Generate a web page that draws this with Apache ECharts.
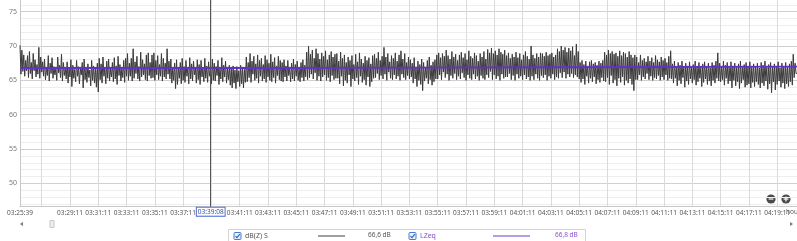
<!DOCTYPE html>
<html><head><meta charset="utf-8">
<script src="https://cdn.jsdelivr.net/npm/echarts@6/dist/echarts.min.js"></script>
<style>html,body{margin:0;padding:0;background:#fff;overflow:hidden}#c{width:797px;height:241px}</style>
</head><body><div id="c"></div>
<script>
const startTime = '03:25:39';
const endTime = '04:20:35';
const stepSeconds = 4;
const dbzS = [
70.1,65.9,69.4,66.3,68.7,65.6,67.9,66.4,
68.6,65.4,69.2,66.0,67.6,65.2,68.9,66.4,68.0,65.5,67.3,65.9,69.8,65.3,68.4,66.2,67.7,65.6,
68.1,65.1,66.9,65.7,68.6,64.9,67.5,66.0,68.3,65.3,67.0,65.8,66.7,65.0,68.4,66.1,67.2,65.4,68.8,64.9,67.6,65.7,66.8,65.2,
67.7,64.6,66.9,65.5,68.0,64.1,67.2,65.3,66.6,64.8,67.9,65.6,67.0,64.5,66.7,65.8,67.6,63.9,68.1,65.1,66.8,64.7,67.4,65.4,66.5,64.2,67.9,65.0,67.1,64.6,66.9,64.0,67.5,63.3,
68.2,65.1,67.4,64.6,68.4,65.6,66.9,64.5,67.8,65.3,68.1,64.9,66.7,65.5,67.6,64.8,68.3,65.2,67.1,64.4,68.5,65.7,67.3,64.9,66.8,65.4,67.9,64.7,68.2,65.6,
68.9,65.0,67.5,65.6,68.2,64.9,69.6,65.3,67.7,66.0,68.5,65.2,67.0,64.9,69.1,65.5,68.0,65.8,67.4,65.1,68.7,64.9,69.0,65.7,67.6,65.3,
68.7,65.4,69.0,65.0,67.9,65.8,68.6,65.1,67.3,65.6,68.9,64.9,68.2,65.5,67.5,65.2,69.6,65.9,
67.8,65.2,68.1,64.6,66.9,65.0,67.5,63.8,68.0,64.4,66.8,65.3,67.6,64.5,68.2,65.0,
67.0,64.7,67.9,65.6,66.8,64.5,68.3,65.2,67.4,64.9,67.8,65.8,66.9,64.6,68.0,65.1,67.3,64.4,67.9,65.5,66.8,64.8,68.2,65.3,67.1,64.7,67.7,65.6,66.6,64.5,68.1,65.0,67.5,64.9,67.0,65.7,67.9,64.4,66.9,65.2,68.3,64.8,67.2,65.5,67.8,64.6,66.7,65.1,
67.2,64.3,66.9,63.9,67.1,64.6,66.5,63.8,67.0,64.8,66.4,64.1,67.2,64.5,66.8,63.9,66.6,64.7,
68.4,64.8,67.6,65.4,68.9,64.7,67.8,65.9,68.5,65.0,67.4,65.3,68.7,64.6,67.9,65.6,68.2,64.9,67.3,65.2,68.6,64.7,68.0,65.5,67.5,65.0,68.8,64.8,67.7,65.4,68.3,64.6,67.1,65.7,68.5,65.1,67.9,64.9,
67.6,64.8,68.0,65.5,67.1,64.9,67.9,65.7,66.8,64.8,67.5,65.2,68.1,64.9,67.3,65.6,67.8,65.0,66.9,64.8,67.6,65.4,68.0,64.9,67.2,65.5,
69.1,65.1,70.0,65.4,68.8,65.9,69.4,65.2,68.2,66.1,69.6,65.0,68.9,65.6,68.1,64.9,69.0,65.5,68.5,65.8,69.3,65.0,68.0,65.4,68.7,64.8,69.2,65.7,68.4,65.1,68.8,65.3,
68.9,65.3,67.8,64.5,69.1,65.6,68.2,64.2,68.7,65.0,67.6,64.6,68.4,65.8,67.9,64.1,68.6,65.2,67.3,64.9,68.8,65.4,67.7,64.4,69.0,65.6,68.1,64.7,67.5,65.1,68.5,64.3,67.9,65.5,68.3,64.1,67.4,64.8,68.6,65.3,
68.8,65.4,68.2,66.0,69.1,65.1,67.9,65.7,68.5,65.2,69.8,65.9,68.4,65.0,68.9,66.2,67.7,65.3,68.6,65.1,68.2,65.8,69.0,65.2,67.8,65.6,68.7,65.0,69.3,65.9,68.1,65.4,68.9,65.1,67.6,65.7,68.4,65.2,68.0,65.5,
67.5,64.6,68.3,65.2,66.9,64.1,67.8,65.0,67.3,64.4,68.1,63.5,67.6,64.9,66.8,65.3,67.9,64.5,68.4,65.1,67.2,64.3,67.7,64.8,68.0,65.2,
68.7,65.2,69.0,65.8,68.3,65.1,68.9,66.2,68.5,65.4,69.4,65.9,68.6,65.0,68.1,65.7,69.2,65.3,68.4,66.0,68.8,65.1,67.9,65.6,68.7,65.2,69.1,66.1,68.3,65.4,68.9,65.0,68.0,65.8,69.3,65.3,68.5,65.1,68.2,65.9,69.0,65.2,68.6,65.6,67.8,65.0,68.9,65.7,68.4,65.3,69.2,65.1,68.1,65.8,
69.5,65.4,69.0,66.3,69.7,65.1,68.9,65.8,69.3,65.2,68.7,65.6,69.6,65.0,69.1,65.9,68.8,65.3,69.4,65.5,
68.6,65.5,69.0,66.0,68.2,65.1,68.8,65.7,68.4,65.0,69.1,65.9,68.3,65.3,68.9,65.6,68.0,65.1,68.7,65.8,69.2,65.2,68.5,65.5,68.1,65.0,70.0,65.6,68.7,65.1,68.2,65.9,68.9,65.3,68.4,65.0,69.0,65.7,
68.9,65.4,68.5,65.8,69.1,65.0,68.6,65.6,68.8,65.3,69.0,65.9,68.4,65.1,68.7,65.5,
69.6,65.3,69.2,66.1,70.0,65.4,69.4,66.2,69.8,65.3,69.1,65.9,69.7,65.5,69.3,66.0,69.9,65.4,68.6,65.8,70.3,65.5,69.2,65.2,
67.6,64.7,67.9,65.2,67.3,64.4,67.8,65.6,67.1,64.6,67.7,65.3,67.9,64.8,67.4,65.5,67.6,64.5,67.2,65.1,67.8,64.7,67.5,65.4,67.9,64.9,
69.1,64.8,68.7,65.4,69.4,64.4,68.9,65.7,69.2,64.6,68.8,65.1,69.0,64.2,68.5,65.3,69.3,64.7,68.6,65.5,69.1,64.3,68.9,65.0,68.4,64.6,69.2,65.2,68.7,64.4,68.3,63.5,68.7,65.1,
68.4,65.1,67.6,65.8,68.7,65.0,67.9,65.5,68.2,65.2,67.7,66.0,68.5,65.1,67.8,65.6,68.3,65.0,67.6,65.4,68.6,65.2,68.0,65.7,67.7,65.0,68.4,65.5,67.9,65.1,68.2,65.8,67.6,65.0,68.5,65.3,69.3,65.2,
67.4,64.6,67.8,65.3,66.9,64.2,67.6,65.0,67.2,64.5,67.8,65.4,66.9,64.0,67.5,64.9,67.1,64.4,67.7,65.2,66.9,64.6,67.3,65.1,67.8,64.3,67.0,64.8,67.6,65.3,66.9,64.1,67.4,64.7,67.7,65.2,67.0,64.4,67.5,64.9,66.8,64.2,67.6,65.0,67.2,64.6,67.8,65.3,
69.0,64.9,
67.5,64.8,66.9,65.1,67.8,64.3,67.2,65.3,67.6,64.5,66.9,64.9,67.7,63.9,67.1,65.0,67.5,64.2,66.9,64.8,67.4,63.8,67.8,64.6,66.9,65.1,67.3,64.0,67.6,64.3,67.0,64.5,67.7,63.9,66.9,64.7,67.4,64.1,67.0,64.8,67.5,64.4,66.8,63.9,67.6,64.6,67.2,64.2,67.8,64.9,66.9,63.7,67.3,64.5,67.6,63.2,66.9,64.8,67.4,63.6,67.1,64.4,67.7,64.9,66.8,64.0,67.5,64.6,67.0,63.8,67.6,64.5,66.9,64.1,67.4,64.8,67.8,64.3,
68.8,65.4,67.5,66.0,66.0
];
const lzeqTimes = ['03:25:39','03:45:00','03:55:00','04:03:00','04:11:00','04:20:35'];
const lzeqValues = [66.8,66.8,66.85,66.9,66.95,67.0];
const gridTimes = ['03:27:11','03:29:11','03:31:11','03:33:11','03:35:11','03:37:11','03:39:11','03:41:11','03:43:11','03:45:11','03:47:11','03:49:11','03:51:11','03:53:11','03:55:11','03:57:11','03:59:11','04:01:11','04:03:11','04:05:11','04:07:11','04:09:11','04:11:11','04:13:11','04:15:11','04:17:11','04:19:11'];
const labelTimes = ['03:25:39','03:29:11','03:31:11','03:33:11','03:35:11','03:37:11','03:41:11','03:43:11','03:45:11','03:47:11','03:49:11','03:51:11','03:53:11','03:55:11','03:57:11','03:59:11','04:01:11','04:03:11','04:05:11','04:07:11','04:09:11','04:11:11','04:13:11','04:15:11','04:17:11','04:19:11'];
const yGridValues = [47,48,49,50,51,52,53,54,55,56,57,58,59,60,61,62,63,64,65,66,67,68,69,70,71,72,73,74,75,76];
const yLabelValues = [50,55,60,65,70,75];
const cursorTime = '03:39:08';
const legendNames = ['dB(Z) S','LZeq'];
const legendValues = ['66,6 dB','66,8 dB'];
const xUnit = 'hour';

const FONT = 'Noto Sans';
function toSec(s){const p=s.split(':').map(Number);return p[0]*3600+p[1]*60+p[2];}
const t0 = toSec(startTime);
const rel = s => toSec(s) - t0;
const pad = n => (n<10?'0':'')+n;
function fmt(v){const s=t0+Math.round(v);return pad(Math.floor(s/3600))+':'+pad(Math.floor(s%3600/60))+':'+pad(s%60);}
const seriesData = dbzS.map((v,i)=>[i*stepSeconds,v]);
const lzeqData = lzeqTimes.map((t,i)=>[rel(t),lzeqValues[i]]);

const PURPLE = '#6630c8';
const chart = echarts.init(document.getElementById('c'), null, {renderer:'canvas'});

function checkbox(x,y){
  return [
    {type:'rect',shape:{x:x,y:y,width:7,height:7,r:1},style:{fill:'#e8f0fb',stroke:'#4a7bd0',lineWidth:1}},
    {type:'polyline',shape:{points:[[x+1.5,y+3.6],[x+3,y+5.2],[x+5.8,y+1.6]]},style:{stroke:'#2f63c0',lineWidth:1.1,fill:null}}
  ];
}
const graphics = [
  {type:'text',left:786,top:209,style:{text:xUnit,fontSize:6.5,fill:'#555',fontFamily:FONT}},
  {type:'circle',shape:{cx:771,cy:199,r:4.6},style:{fill:'#4a4a4a'}},
  {type:'line',shape:{x1:768.6,y1:199,x2:773.4,y2:199},style:{stroke:'#fff',lineWidth:1.2}},
  {type:'circle',shape:{cx:786,cy:199,r:4.6},style:{fill:'#4a4a4a'}},
  {type:'line',shape:{x1:783.6,y1:199,x2:788.4,y2:199},style:{stroke:'#fff',lineWidth:1.2}},
  {type:'line',shape:{x1:786,y1:196.6,x2:786,y2:201.4},style:{stroke:'#fff',lineWidth:1.2}},
  {type:'polygon',shape:{points:[[20,224],[23,222],[23,226]]},style:{fill:'#777'}},
  {type:'rect',shape:{x:50,y:220.5,width:4,height:7},style:{fill:'#eee',stroke:'#bbb',lineWidth:0.8}},
  {type:'polygon',shape:{points:[[793,224],[790,222],[790,226]]},style:{fill:'#777'}},
  {type:'rect',shape:{x:228.5,y:229.5,width:357,height:16},style:{fill:'#fff',stroke:'#d4d4d4',lineWidth:1}},
  ...checkbox(234,232.5),
  {type:'text',left:245,top:232,style:{text:legendNames[0],fontSize:7,fill:'#555',fontFamily:FONT}},
  {type:'line',shape:{x1:318,y1:236,x2:345,y2:236},style:{stroke:'#888',lineWidth:1.6}},
  {type:'text',left:368,top:232,style:{text:legendValues[0],fontSize:6.5,fill:'#555',fontFamily:FONT}},
  ...checkbox(409,232.5),
  {type:'text',left:420,top:232,style:{text:legendNames[1],fontSize:7,fill:'#8c4fd0',fontFamily:FONT}},
  {type:'line',shape:{x1:493,y1:236,x2:530,y2:236},style:{stroke:'#a47ad8',lineWidth:1.6}},
  {type:'text',left:555,top:232,style:{text:legendValues[1],fontSize:6.5,fill:'#8c4fd0',fontFamily:FONT}}
];

chart.setOption({
  animation:false,
  backgroundColor:'#fff',
  grid:{left:20,right:0,top:0,bottom:34.3},
  xAxis:{type:'value',min:0,max:rel(endTime),
    axisLine:{show:true,onZero:false,lineStyle:{color:'#c8c8c8'}},
    axisTick:{show:false,customValues:gridTimes.map(rel)},
    axisLabel:{customValues:labelTimes.map(rel),formatter:fmt,fontSize:6.5,color:'#555',margin:3,fontFamily:FONT},
    splitLine:{show:true,lineStyle:{color:'#dadada',width:1}}
  },
  yAxis:{type:'value',min:46.6,max:76.7,
    axisLine:{show:true,lineStyle:{color:'#c8c8c8'}},
    axisTick:{show:false,customValues:yGridValues},
    axisLabel:{customValues:yLabelValues,fontSize:7,color:'#777',margin:3,fontFamily:FONT},
    splitLine:{show:true,lineStyle:{color:yGridValues.map(v=>v%5===0?'#d0d0d0':'#eeeeee')}}
  },
  series:[
    {name:legendNames[0],type:'line',data:seriesData,showSymbol:false,symbol:'none',sampling:null,
     lineStyle:{color:'#3a3a3a',width:1},itemStyle:{color:'#3a3a3a'},z:2,
     markLine:{silent:true,symbol:['none','none'],animation:false,
       lineStyle:{color:'#555',width:1,type:'solid'},
       label:{show:true,position:'start',formatter:cursorTime,fontSize:6.5,color:'#3050a8',
         borderColor:'#4a6cd4',borderWidth:1,backgroundColor:'#fff',padding:[1,1,0,1],distance:1,fontFamily:FONT},
       emphasis:{disabled:true},
       data:[{xAxis:rel(cursorTime)}]}
    },
    {name:legendNames[1],type:'line',data:lzeqData,showSymbol:false,symbol:'none',
     lineStyle:{color:PURPLE,width:1.9},itemStyle:{color:PURPLE},z:3}
  ],
  graphic:graphics
});
</script></body></html>
